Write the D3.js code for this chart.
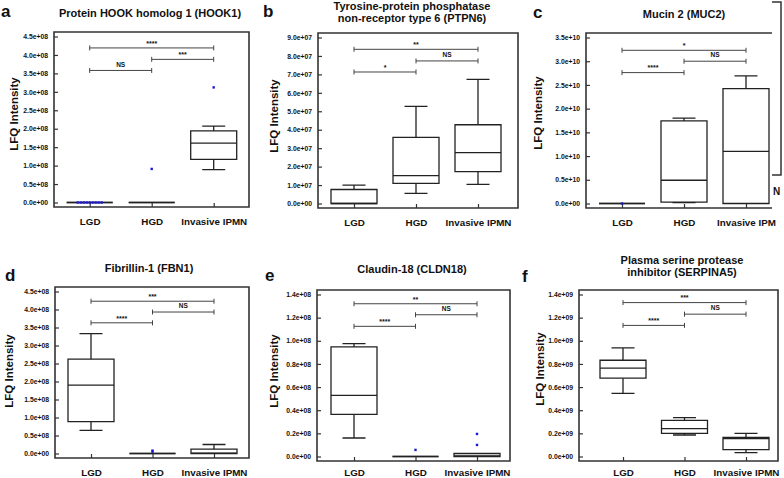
<!DOCTYPE html>
<html>
<head>
<meta charset="utf-8">
<script src="https://cdn.jsdelivr.net/npm/d3@7"></script>
<style>
  body { margin: 0; background: #fff; }
  text { font-family: "Liberation Sans", Arial, sans-serif; font-weight: bold; fill: #111; }
</style>
</head>
<body>
<script>
const categories = ["LGD", "HGD", "Invasive IPMN"];

// box stats per group: [low whisker, q1, median, q3, high whisker]
const hook1 = [[0, 0, 0, 0, 0], [0, 0, 0, 0, 0], [0.89e8, 1.17e8, 1.61e8, 1.94e8, 2.07e8]];
const hook1Out = [[0, 0, 0, 0, 0, 0, 0, 0, 0], [0.91e8], [3.12e8]];
const hook1Sig = [[0, 2, 4.19e8, "****"], [1, 2, 3.88e8, "***"], [0, 1, 3.58e8, "NS"]];

const ptpn6 = [[0, 0, 0, 0.76e7, 1.0e7], [0.55e7, 1.09e7, 1.51e7, 3.58e7, 5.27e7], [1.04e7, 1.73e7, 2.76e7, 4.27e7, 6.73e7]];
const ptpn6Out = [[], [], []];
const ptpn6Sig = [[0, 2, 8.36e7, "**"], [1, 2, 7.73e7, "NS"], [0, 1, 7.13e7, "*"]];

const muc2 = [[0, 0, 0, 0, 0], [0.02e10, 0.03e10, 0.49e10, 1.74e10, 1.8e10], [0, 0, 1.1e10, 2.42e10, 2.69e10]];
const muc2Out = [[0], [], []];
const muc2Sig = [[0, 2, 3.23e10, "*"], [1, 2, 3.0e10, "NS"], [0, 1, 2.76e10, "****"]];

const fbn1 = [[0.64e8, 0.885e8, 1.9e8, 2.62e8, 3.33e8], [0, 0, 0, 0, 0], [0, 0, 0.01e8, 0.12e8, 0.25e8]];
const fbn1Out = [[], [0.05e8, 0.08e8], []];
const fbn1Sig = [[0, 2, 4.23e8, "***"], [1, 2, 3.93e8, "NS"], [0, 1, 3.63e8, "****"]];

const cldn18 = [[0.16e8, 0.364e8, 0.528e8, 0.947e8, 0.975e8], [0, 0, 0, 0, 0], [0, 0, 0.005e8, 0.026e8, 0.026e8]];
const cldn18Out = [[], [0.057e8], [0.195e8, 0.1e8]];
const cldn18Sig = [[0, 2, 1.32e8, "**"], [1, 2, 1.225e8, "NS"], [0, 1, 1.125e8, "****"]];

const serpina5 = [[0.545e9, 0.677e9, 0.763e9, 0.832e9, 0.938e9], [0.186e9, 0.2e9, 0.241e9, 0.313e9, 0.336e9], [0.034e9, 0.06e9, 0.155e9, 0.166e9, 0.2e9]];
const serpina5Out = [[], [], []];
const serpina5Sig = [[0, 2, 1.33e9, "***"], [1, 2, 1.23e9, "NS"], [0, 1, 1.133e9, "****"]];

// y tick range per panel: [max, step, exponent]
const hook1Ticks = [4.5e8, 0.5e8, 8];
const ptpn6Ticks = [9e7, 1e7, 7];
const muc2Ticks = [3.5e10, 0.5e10, 10];
const fbn1Ticks = [4.5e8, 0.5e8, 8];
const cldn18Ticks = [1.4e8, 0.2e8, 8];
const serpina5Ticks = [1.4e9, 0.2e9, 9];

const panels = [
  { letter: "a", title: ["Protein HOOK homolog 1 (HOOK1)"], stats: hook1, out: hook1Out, sig: hook1Sig, ticks: hook1Ticks,
    l: 54, r: 249, t: 32, b: 207, cx: 89.7, step: 62, catY: 225, lx: 1, ly: 17, tx: 150, ty: 16.5, yl: [18, 114] },
  { letter: "b", title: ["Tyrosine-protein phosphatase", "non-receptor type 6 (PTPN6)"], stats: ptpn6, out: ptpn6Out, sig: ptpn6Sig, ticks: ptpn6Ticks,
    l: 318, r: 518, t: 33, b: 208, cx: 354, step: 62, catY: 226, lx: 263, ly: 17, tx: 412, ty: 10, yl: [278, 116] },
  { letter: "c", title: ["Mucin 2 (MUC2)"], stats: muc2, out: muc2Out, sig: muc2Sig, ticks: muc2Ticks,
    l: 586, r: 772, t: 33, b: 208, cx: 622, step: 62, catY: 226, lx: 533, ly: 18, tx: 684, ty: 18, yl: [542, 113],
    noRight: true, lastLabel: "Invasive IPM" },
  { letter: "d", title: ["Fibrillin-1 (FBN1)"], stats: fbn1, out: fbn1Out, sig: fbn1Sig, ticks: fbn1Ticks,
    l: 55, r: 249, t: 287, b: 458, cx: 91, step: 61.5, catY: 476, lx: 5, ly: 281, tx: 149, ty: 272, yl: [13, 371] },
  { letter: "e", title: ["Claudin-18 (CLDN18)"], stats: cldn18, out: cldn18Out, sig: cldn18Sig, ticks: cldn18Ticks,
    l: 317, r: 510, t: 290, b: 461, cx: 354, step: 61.5, catY: 476, lx: 265, ly: 281, tx: 412, ty: 273, yl: [278, 371] },
  { letter: "f", title: ["Plasma serine protease", "inhibitor (SERPINA5)"], stats: serpina5, out: serpina5Out, sig: serpina5Sig, ticks: serpina5Ticks,
    l: 579, r: 778, t: 290, b: 461, cx: 623, step: 61.5, catY: 476, lx: 522, ly: 282, tx: 682, ty: 264, yl: [544, 369] }
];

const boxW = 46, capW = 23, catSize = 9.8;

const svg = d3.select('body').append('svg')
    .attr('width', 784)
    .attr('height', 478);

const expFormat = exp => v => v === 0 ? "0.0e+00"
    : (v / Math.pow(10, exp)).toFixed(1) + "e+" + String(exp).padStart(2, "0");

panels.forEach(p => {
  const g = svg.append('g');
  const [max, step, exp] = p.ticks;
  const tickValues = d3.range(0, max + step / 2, step);

  const y = d3.scaleLinear().domain([0, max]).range([p.b - 4.5, p.t + 4.5]);
  const x = d3.scalePoint().domain(categories).range([p.cx, p.cx + 2 * p.step]);

  // axes (inner ticks, no domain line)
  g.append('g')
      .attr('transform', `translate(${p.l},0)`)
      .call(d3.axisLeft(y).tickValues(tickValues).tickFormat(expFormat(exp))
          .tickSizeInner(-4).tickSizeOuter(0).tickPadding(6))
      .call(a => a.select('.domain').remove())
      .call(a => a.selectAll('line').attr('stroke', '#333').attr('stroke-width', 1.2))
      .call(a => a.selectAll('text').attr('font-size', 6.8).attr('font-family', null));

  g.append('g')
      .attr('transform', `translate(0,${p.b})`)
      .call(d3.axisBottom(x).tickSizeInner(-4).tickSizeOuter(0)
          .tickPadding(p.catY - p.b - 0.71 * catSize)
          .tickFormat((d, i) => i === 2 && p.lastLabel ? p.lastLabel : d))
      .call(a => a.select('.domain').remove())
      .call(a => a.selectAll('line').attr('stroke', '#333').attr('stroke-width', 1.2))
      .call(a => a.selectAll('text').attr('font-size', catSize).attr('font-family', null));

  // frame
  g.append('path')
      .attr('d', p.noRight
          ? `M${p.r},${p.t}H${p.l}V${p.b}H${p.r}`
          : `M${p.l},${p.t}H${p.r}V${p.b}H${p.l}Z`)
      .attr('fill', 'none')
      .attr('stroke', '#333')
      .attr('stroke-width', 1.6);

  // boxes
  const box = g.selectAll('.box')
      .data(p.stats.map((s, i) => ({ s, cat: categories[i] })))
      .enter().append('g')
      .attr('class', 'box')
      .attr('fill', 'none')
      .attr('stroke', '#222')
      .attr('stroke-width', 1.3);

  box.filter(d => d.s[4] > d.s[3]).append('path')
      .attr('d', d => `M${x(d.cat)},${y(d.s[3])}V${y(d.s[4])}M${x(d.cat) - capW / 2},${y(d.s[4])}h${capW}`);

  box.filter(d => d.s[0] < d.s[1]).append('path')
      .attr('d', d => `M${x(d.cat)},${y(d.s[1])}V${y(d.s[0])}M${x(d.cat) - capW / 2},${y(d.s[0])}h${capW}`);

  box.append('path')
      .attr('d', d => `M${x(d.cat) - boxW / 2},${y(d.s[3])}h${boxW}V${y(d.s[1])}h${-boxW}Z`)
      .attr('stroke', d => d.s[4] === 0 ? '#555' : '#222');

  box.append('path')
      .attr('d', d => `M${x(d.cat) - boxW / 2},${y(d.s[2])}h${boxW}`);

  // outlier points, equal values spread sideways
  const pts = [];
  p.out.forEach((vals, i) => {
    vals.forEach((v, j) => {
      const same = vals.filter(w => w === v).length;
      const k = vals.slice(0, j).filter(w => w === v).length;
      pts.push({ cat: categories[i], v, off: (k - (same - 1) / 2) * 3 });
    });
  });
  g.selectAll('.pt')
      .data(pts)
      .enter().append('rect')
      .attr('class', 'pt')
      .attr('x', d => x(d.cat) + d.off - 1.2)
      .attr('y', d => y(d.v) - 1.2)
      .attr('width', 2.4)
      .attr('height', 2.4)
      .attr('fill', '#1a1ad0');

  // significance brackets
  const sig = g.selectAll('.sig')
      .data(p.sig)
      .enter().append('g')
      .attr('class', 'sig');

  sig.append('path')
      .attr('d', d => {
        const x0 = x(categories[d[0]]), x1 = x(categories[d[1]]), yy = y(d[2]);
        return `M${x0},${yy - 2.5}v5M${x0},${yy}H${x1}M${x1},${yy - 2.5}v5`;
      })
      .attr('fill', 'none')
      .attr('stroke', '#444')
      .attr('stroke-width', 1);

  sig.append('text')
      .attr('x', d => (x(categories[d[0]]) + x(categories[d[1]])) / 2)
      .attr('y', d => y(d[2]) - (d[3] === "NS" ? 3.8 : 2.2))
      .attr('text-anchor', 'middle')
      .attr('font-size', d => d[3] === "NS" ? 6.5 : 7)
      .text(d => d[3]);

  // titles, letter, y label
  g.append('text')
      .attr('text-anchor', 'middle')
      .attr('font-size', 11)
      .selectAll('tspan')
      .data(p.title)
      .enter().append('tspan')
      .attr('x', p.tx)
      .attr('y', (d, i) => p.ty + i * 12)
      .text(d => d);

  g.append('text')
      .attr('x', p.lx)
      .attr('y', p.ly)
      .attr('font-size', 17)
      .text(p.letter);

  g.append('text')
      .attr('transform', `translate(${p.yl[0]},${p.yl[1]}) rotate(-90)`)
      .attr('text-anchor', 'middle')
      .attr('font-size', 11.5)
      .text("LFQ Intensity");
});

// edge of the neighbouring figure that is cut off at the right
svg.append('path')
    .attr('d', 'M772,2H781V175H772')
    .attr('fill', 'none')
    .attr('stroke', '#333')
    .attr('stroke-width', 1.5);

svg.append('text')
    .attr('x', 773)
    .attr('y', 195)
    .attr('font-size', 10)
    .text("N");
</script>
</body>
</html>
